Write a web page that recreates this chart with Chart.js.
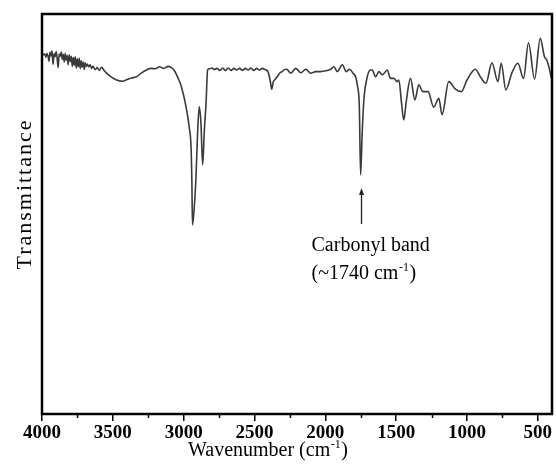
<!DOCTYPE html>
<html><head><meta charset="utf-8">
<script src="https://cdn.jsdelivr.net/npm/chart.js@4"></script>
<style>html,body{margin:0;padding:0;background:#fff}canvas{display:block}</style>
</head><body>
<canvas id="c" width="556" height="474"></canvas>
<script>
// Wavenumber (cm-1) sample positions
const wavenumbers = [
4000,3990,3980,3972,3965,3958,3950,3944,3937,3930,3922,3915,3908,3900,3893,3886,3879,3872,3864,3857,
3850,3843,3836,3829,3822,3815,3808,3800,3793,3786,3779,3772,3765,3758,3751,3744,3737,3730,3723,3716,
3709,3702,3695,3688,3680,3670,3660,3650,3640,3625,3610,3595,3580,3560,3544,3510,3474,3432,3400,3370,
3333,3300,3263,3230,3200,3171,3140,3110,3087,3068,3050,3030,3016,2983,2960,2948,2942,2938,2925,2913,
2901,2890,2878,2866,2854,2842,2831,2819,2800,2785,2765,2745,2725,2705,2685,2665,2645,2625,2605,2585,
2565,2545,2525,2505,2485,2465,2445,2425,2405,2390,2378,2368,2355,2340,2320,2305,2290,2273,2244,2209,
2173,2138,2103,2068,2032,1997,1962,1939,1916,1880,1852,1828,1805,1786,1772,1760,1751,1740,1728,1704,
1681,1669,1645,1622,1597,1563,1540,1516,1493,1481,1462,1446,1429,1399,1368,1340,1312,1275,1235,1199,
1176,1129,1082,1040,1000,941,906,866,824,782,758,726,683,641,601,566,523,483,453,437,414,405
];
// Transmittance (arbitrary units, 0 = bottom of frame, 100 = top)
const transmittance = [
90.3,89.8,90.0,89.2,90.1,89.6,88.2,90.4,89.5,90.8,87.4,90.1,89.3,90.6,88.9,86.6,90.0,89.4,90.5,88.6,
89.9,88.0,90.2,88.4,89.6,87.3,89.8,88.1,89.4,86.9,89.1,87.2,89.3,86.5,88.8,86.8,88.9,86.4,88.3,86.7,
88.0,86.1,87.8,86.9,87.5,86.8,87.3,86.4,86.9,86.1,86.6,85.9,86.7,85.8,85.2,84.2,83.5,83.2,83.6,84.0,
84.3,85.2,86.0,86.4,86.3,86.8,86.4,86.9,86.6,86.0,84.8,83.2,81.8,76.8,71.5,66.8,58.0,47.3,51.8,59.3,
71.0,76.8,72.7,62.3,71.0,77.7,86.0,86.3,86.5,86.1,86.4,85.9,86.5,85.9,86.5,85.9,86.4,86.0,86.4,85.9,
86.4,86.0,86.5,85.9,86.4,86.0,86.4,86.1,85.6,83.5,81.2,83.0,83.6,84.3,85.3,85.6,86.1,86.2,85.2,86.4,
85.3,86.2,85.2,85.6,85.6,85.8,86.2,86.8,85.6,87.3,85.6,86.2,85.2,84.3,81.8,76.8,59.8,70.2,78.5,84.3,
86.0,86.0,84.3,85.6,84.8,86.0,83.9,83.9,83.1,83.5,77.7,73.5,78.1,83.9,78.5,82.3,80.6,80.6,76.7,78.9,
74.8,83.1,81.2,80.6,83.5,86.2,84.3,82.7,87.8,83.1,87.7,81.0,85.3,87.7,83.9,92.8,83.7,93.9,89.3,88.5,85.6,84.0
];
const majorTicks = [4000,3500,3000,2500,2000,1500,1000,500];
const minorTicks = [3750,3250,2750,2250,1750,1250,750];
const xTitle = ['Wavenumber (cm', '-1', ')'];
const yTitle = 'Transmittance';
const annotation = {wavenumber: 1745, tip: 56.5, tail: 47.5, line1: 'Carbonyl band', line2: ['(~1740 cm', '-1', ')']};

const SERIF = '"Liberation Serif", "Times New Roman", serif';

function drawSup(ctx, x, y, parts, size) {
  ctx.font = size + 'px ' + SERIF;
  ctx.textAlign = 'left';
  ctx.textBaseline = 'alphabetic';
  ctx.fillText(parts[0], x, y);
  x += ctx.measureText(parts[0]).width;
  ctx.font = Math.round(size * 0.6) + 'px ' + SERIF;
  ctx.fillText(parts[1], x + 0.5, y - size * 0.42);
  x += ctx.measureText(parts[1]).width + 1;
  ctx.font = size + 'px ' + SERIF;
  ctx.fillText(parts[2], x, y);
}

const decor = {
  id: 'decor',
  afterDraw(chart) {
    const ctx = chart.ctx, a = chart.chartArea;
    const xs = chart.scales.x, ys = chart.scales.y;
    ctx.save();
    // frame
    ctx.strokeStyle = '#000';
    ctx.lineWidth = 2.5;
    ctx.strokeRect(a.left, a.top, a.right - a.left, a.bottom - a.top);
    // minor ticks
    ctx.lineWidth = 1.5;
    minorTicks.forEach(v => {
      const px = Math.round(xs.getPixelForValue(v)) + 0.5;
      ctx.beginPath(); ctx.moveTo(px, a.bottom); ctx.lineTo(px, a.bottom + 4); ctx.stroke();
    });
    ctx.fillStyle = '#000';
    // x title
    drawSup(ctx, 188, 456, xTitle, 20);
    // y title
    ctx.save();
    ctx.translate(31, 194);
    ctx.rotate(-Math.PI / 2);
    ctx.font = '22px ' + SERIF;
    ctx.letterSpacing = '2px';
    ctx.textAlign = 'center';
    ctx.textBaseline = 'alphabetic';
    ctx.fillText(yTitle, 0, 0);
    ctx.restore();
    // annotation arrow
    const ax = Math.round(xs.getPixelForValue(annotation.wavenumber)) + 0.5;
    const tipY = ys.getPixelForValue(annotation.tip);
    const tailY = ys.getPixelForValue(annotation.tail);
    ctx.strokeStyle = '#222';
    ctx.lineWidth = 1.3;
    ctx.beginPath(); ctx.moveTo(ax, tailY); ctx.lineTo(ax, tipY + 4); ctx.stroke();
    ctx.fillStyle = '#222';
    ctx.beginPath(); ctx.moveTo(ax, tipY); ctx.lineTo(ax - 2.5, tipY + 7); ctx.lineTo(ax + 2.5, tipY + 7); ctx.closePath(); ctx.fill();
    // annotation text
    ctx.fillStyle = '#000';
    ctx.font = '20px ' + SERIF;
    ctx.textAlign = 'left';
    ctx.fillText(annotation.line1, ax - 50, 251);
    drawSup(ctx, ax - 50, 279, annotation.line2, 20);
    ctx.restore();
  }
};

new Chart(document.getElementById('c'), {
  type: 'line',
  data: {
    datasets: [{
      data: wavenumbers.map((w, i) => ({x: w, y: transmittance[i]})),
      borderColor: '#3a3a3a',
      borderWidth: 1.6,
      pointRadius: 0,
      cubicInterpolationMode: 'monotone',
      fill: false
    }]
  },
  options: {
    responsive: false,
    animation: false,
    devicePixelRatio: 1,
    layout: {padding: {top: 14, right: 4, left: 0, bottom: 0}},
    plugins: {legend: {display: false}, tooltip: {enabled: false}},
    scales: {
      x: {
        type: 'linear', reverse: true, min: 400, max: 4000,
        afterBuildTicks: s => { s.ticks = majorTicks.map(v => ({value: v})); },
        afterFit: s => { s.height = 60; },
        grid: {display: true, drawOnChartArea: false, drawTicks: true, tickLength: 7, color: '#000', lineWidth: 1.5},
        border: {display: false},
        ticks: {font: {family: SERIF, size: 19, weight: 'bold'}, color: '#000', padding: 1, maxRotation: 0, autoSkip: false,
                callback: v => String(v)}
      },
      y: {
        type: 'linear', min: 0, max: 100,
        afterFit: s => { s.width = 42; },
        ticks: {display: false},
        grid: {display: false},
        border: {display: false}
      }
    }
  },
  plugins: [decor]
});
</script>
</body></html>
